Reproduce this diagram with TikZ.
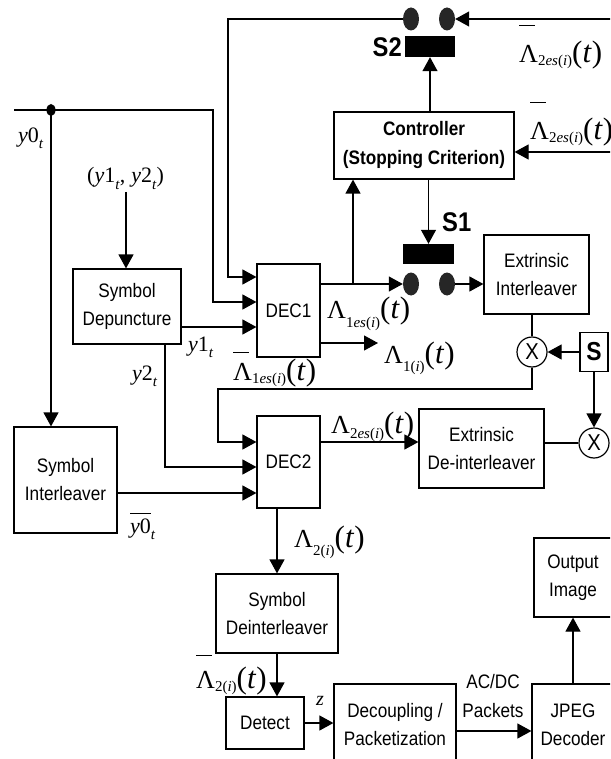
\documentclass[tikz,border=0pt]{standalone}
\usepackage{fontspec}
\setmainfont{Liberation Sans}[FakeStretch=0.88]
\newfontfamily\tnr{Liberation Serif}
\usetikzlibrary{arrows.meta,calc,shapes.geometric}
\tikzset{
 blk/.style={draw, line width=1.2pt, align=center, inner sep=0pt, font=\fontsize{19.5}{28}\selectfont},
 arr/.style={line width=1.2pt, -{Triangle[length=14pt,width=15pt]}},
 ln/.style={line width=1.2pt},
 sw/.style={ellipse, fill=black!85, minimum width=16pt, minimum height=23pt, inner sep=0pt},
 swbar/.style={fill=black, inner sep=0pt},
 lab/.style={inner sep=0pt, anchor=base west},
 mul/.style={circle, draw, line width=1.2pt, minimum size=30pt, inner sep=0pt, font=\fontsize{23}{23}\selectfont},
}
\newcommand{\Lm}[2]{{\tnr\fontsize{26}{26}\selectfont Λ\raisebox{#1}{\fontsize{15}{15}\selectfont #2}\fontsize{31}{31}\selectfont(\textit{t})}}
\newcommand{\BLm}[3]{{\rlap{\raisebox{#1}{\rule{16pt}{1pt}}}\Lm{#2}{#3}}}
\begin{document}
\begin{tikzpicture}[x=1pt,y=-1pt]
\useasboundingbox (0,0) rectangle (610,759);
\clip (0,0) rectangle (610,759);
% blocks
\node[blk, minimum width=180pt, minimum height=67pt, font=\bfseries\fontsize{19.5}{29}\selectfont] (ctrl) at (424,145.5) {Controller\\(Stopping Criterion)};
\node[blk, minimum width=63pt, minimum height=93pt] (dec1) at (288.5,310.5) {DEC1};
\node[blk, minimum width=63pt, minimum height=92pt] (dec2) at (288.5,462) {DEC2};
\node[blk, minimum width=108pt, minimum height=75pt] (dep) at (127,306.5) {Symbol\\Depuncture};
\node[blk, minimum width=103pt, minimum height=106pt] (sint) at (65.5,480) {Symbol\\Interleaver};
\node[blk, minimum width=105pt, minimum height=79pt] (eint) at (536.5,274.5) {Extrinsic\\Interleaver};
\node[blk, minimum width=125pt, minimum height=79pt] (edint) at (481.5,448.5) {Extrinsic\\De-interleaver};
\node[blk, minimum width=122pt, minimum height=79pt] (sdint) at (277,613.5) {Symbol\\Deinterleaver};
\node[blk, minimum width=78pt, minimum height=52pt] (detect) at (265,723) {Detect};
\node[blk, minimum width=122pt, minimum height=81pt] (decoup) at (395,724.5) {Decoupling /\\Packetization};
\node[blk, minimum width=82pt, minimum height=81pt] (jpeg) at (573,724.5) {JPEG\\Decoder};
\node[blk, minimum width=78pt, minimum height=79pt] (outimg) at (573,577.5) {Output\\Image};
\node[blk, minimum width=28pt, minimum height=39pt, font=\bfseries\fontsize{26}{26}\selectfont] (sbox) at (594,352) {S};
\node[mul] (x1) at (532,352) {X};
\node[mul] (x2) at (594,443) {X};
% switches
\node[sw] (s2a) at (411,19) {};
\node[sw] (s2b) at (447,19) {};
\node[swbar, minimum width=50pt, minimum height=21pt] (s2bar) at (430,46.5) {};
\node[sw] (s1a) at (411,284) {};
\node[sw] (s1b) at (447,284) {};
\node[swbar, minimum width=51pt, minimum height=20pt] (s1bar) at (428.5,254) {};
\node[font=\bfseries\fontsize{27}{27}\selectfont, anchor=east, inner sep=0pt] (s2lab) at (402,47) {S2};
\node[font=\bfseries\fontsize{27}{27}\selectfont, anchor=west, inner sep=0pt] (s1lab) at (442,222) {S1};
\node[ellipse, fill=black, minimum width=9pt, minimum height=12pt, inner sep=0pt] (y0dot) at (51,110) {};
% ports
\coordinate (d1a) at ([yshift=33.5pt]dec1.west);
\coordinate (d1b) at ([yshift=8.5pt]dec1.west);
\coordinate (d1c) at ([yshift=-16.5pt]dec1.west);
\coordinate (d2a) at ([yshift=20pt]dec2.west);
\coordinate (d2b) at ([yshift=-5pt]dec2.west);
\coordinate (d2c) at ([yshift=-31pt]dec2.west);
\coordinate (d1o1) at ([yshift=26.5pt]dec1.east);
\coordinate (d1o2) at ([yshift=-32.5pt]dec1.east);
\coordinate (tl) at (228,19);
\coordinate (y0in) at (14,110);
\coordinate (y0br) at (213,110);
\coordinate (y12) at (126,192);
\coordinate (y2s) at ([xshift=38pt]dep.south);
\coordinate (br1) at (353,284);
\coordinate (l1end) at (378,343);
\coordinate (rin1) at (612,19);
\coordinate (rin2) at (612,152);
\coordinate (fb) at (218,389);
\coordinate (dco) at ([yshift=-6.5pt]decoup.east);
% connectors
\draw[arr] (s2a.west) -- (tl) |- (d1a);
\draw[arr] (y0in) -- (y0br) |- (d1b);
\draw[arr] (y0dot.center) -- (y0dot.center |- sint.north);
\draw[arr] (d1c -| dep.east) -- (d1c);
\draw[arr] (y12) -- (y12 |- dep.north);
\draw[arr] (y2s) |- (d2b);
\draw[arr] (d2c -| sint.east) -- (d2c);
\draw[arr] (d1o1) -- (s1a.west);
\draw[arr] (br1) -- (br1 |- ctrl.south);
\draw[arr] (d1o2) -- (l1end);
\draw[arr] (s1b.east) -- (s1b.east -| eint.west);
\draw[arr] (s1bar.north |- ctrl.south) -- (s1bar.north);
\draw[arr] (s2bar.south |- ctrl.north) -- (s2bar.south);
\draw[arr] (rin1) -- (s2b.east);
\draw[arr] (rin2) -- (rin2 -| ctrl.east);
\draw[ln] (x1.north |- eint.south) -- (x1.north);
\draw[arr] (sbox.west) -- (x1.east);
\draw[arr] (x1.south) |- (fb) |- (d2a);
\draw[arr] (d2a -| dec2.east) -- (d2a -| edint.west);
\draw[ln] (x2.west -| edint.east) -- (x2.west);
\draw[arr] (sbox.south) -- (x2.north);
\draw[arr] (sdint.north |- dec2.south) -- (sdint.north);
\draw[arr] (sdint.south) -- (sdint.south |- detect.north);
\draw[arr] (detect.east) -- (detect.east -| decoup.west);
\draw[arr] (dco) -- (dco -| jpeg.west);
\draw[arr] (jpeg.north) -- (outimg.south);
% labels
\node[lab] (ly0) at (18,143) {\tnr\fontsize{22}{22}\selectfont\textit{y}0\raisebox{-6pt}{\fontsize{15}{15}\selectfont\textit{t}}};
\node[lab] (ly12) at (87,183) {\tnr\fontsize{22}{22}\selectfont(\textit{y}1\raisebox{-6pt}{\fontsize{15}{15}\selectfont\textit{t}},\hspace{6pt}\textit{y}2\raisebox{-6pt}{\fontsize{15}{15}\selectfont\textit{t}})};
\node[lab] (ly1) at (188,351) {\tnr\fontsize{22}{22}\selectfont\textit{y}1\raisebox{-6pt}{\fontsize{15}{15}\selectfont\textit{t}}};
\node[lab] (ly2) at (132,380) {\tnr\fontsize{22}{22}\selectfont\textit{y}2\raisebox{-6pt}{\fontsize{15}{15}\selectfont\textit{t}}};
\node[lab] (ly0b) at (130,533) {\tnr\fontsize{22}{22}\selectfont\rlap{\raisebox{19pt}{\rule{21pt}{1pt}}}\textit{y}0\raisebox{-6pt}{\fontsize{15}{15}\selectfont\textit{t}}};
\node[lab] (lz) at (316,705) {\tnr\fontsize{20}{20}\selectfont\textit{z}};
\node[lab] (l1es) at (327,318) {\Lm{-9pt}{1\textit{es}(\textit{i})}};
\node[lab] (l1) at (384,363) {\Lm{-8pt}{1(\textit{i})}};
\node[lab] (l1esb) at (233,380) {\BLm{27pt}{-3pt}{1\textit{es}(\textit{i})}};
\node[lab] (l2es) at (331,433) {\Lm{-5pt}{2\textit{es}(\textit{i})}};
\node[lab] (l2) at (294,547) {\Lm{-8pt}{2(\textit{i})}};
\node[lab] (l2b) at (196,688) {\BLm{32pt}{-3pt}{2(\textit{i})}};
\node[lab] (l2esa) at (519,63) {\BLm{37pt}{-3pt}{2\textit{es}(\textit{i})}};
\node[lab] (l2esb) at (530,140) {\BLm{37pt}{-3pt}{2\textit{es}(\textit{i})}};
\node[align=center, inner sep=0pt, font=\fontsize{19.5}{29}\selectfont] (lacdc) at (493,696) {AC/DC\\Packets};
\end{tikzpicture}
\end{document}
